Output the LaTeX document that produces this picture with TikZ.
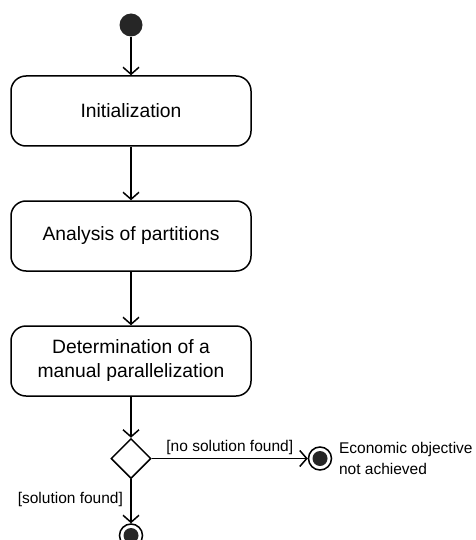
\documentclass[tikz,border=0pt]{standalone}
\usepackage{fontspec}
\setmainfont{Liberation Sans}
\usetikzlibrary{arrows.meta,shapes.geometric}
\tikzstyle{action}=[draw,rounded corners=15pt,minimum width=240pt,minimum height=70pt,align=center,font=\fontsize{19.3}{24}\selectfont]
\tikzstyle{guard}=[font=\fontsize{15.5}{21}\selectfont]
\tikzstyle{final}=[draw,circle,minimum size=23pt,inner sep=0pt,path picture={\fill[black!85] (path picture bounding box.center) circle (7.5pt);}]
\tikzset{
	>={Straight Barb[length=7pt,width=16pt]},
}

\begin{document}
\begin{tikzpicture}[x=1pt,y=-1pt,line width=1.5pt,node distance=125pt]
    \useasboundingbox (0,0) rectangle (475,540);

    \node[circle,fill=black!85,minimum size=23pt,inner sep=0pt] (start) at (131,25) {};
    \node[action,below of=start,node distance=86pt] (init) {Initialization};
    \node[action,below of=init] (partitions) {Analysis of partitions};
    \node[action,below of=partitions] (manual) {Determination of a\\manual parallelization};
    \node[draw,diamond,minimum size=40pt,inner sep=0pt,below of=manual,node distance=97.5pt] (decision) {};
    \node[final,right of=decision,node distance=189pt] (fail) {};
    \node[final,below of=decision,node distance=77pt] (done) {};
    \node[guard,right of=fail,anchor=west,align=left,node distance=15pt] (failtext) {Economic objective\\not achieved};

    \draw[->] (start) -- (init);
    \draw[->] (init) -- (partitions);
    \draw[->] (partitions) -- (manual);
    \draw[->] (manual) -- (decision);
    \draw[->] (decision) -- node[guard,above] {[no solution found]} (fail);
    \draw[->] (decision) -- node[guard,left,pos=0.45,xshift=-4pt] {[solution found]} (done);
\end{tikzpicture}
\end{document}
